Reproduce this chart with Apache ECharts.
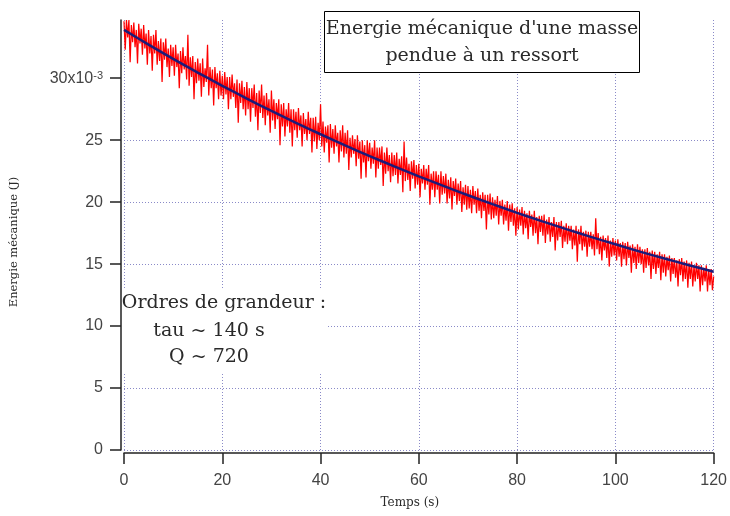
<!DOCTYPE html>
<html>
<head>
<meta charset="utf-8">
<script src="https://cdn.jsdelivr.net/npm/echarts@6/dist/echarts.min.js"></script>
<style>
  html, body { margin: 0; padding: 0; background: #fff; }
  #chart { width: 730px; height: 516px; }
</style>
</head>
<body>
<div id="chart"></div>
<script>
// Recorded mechanical energy (x10^-3 J), one sample every 0.25 s from 0 to 120 s
const sampleStep = 0.25;
const energy = [
  // 0 - 5 s
  34.6, 32.3, 34.7, 33.3, 34.7, 31.3, 34.3, 32.9, 34.5, 32.5, 33.9, 31.2, 34.4, 32.8, 34.0, 31.9, 34.3, 32.4, 33.6, 31.1,
  // 5 - 10 s
  33.9, 32.0, 33.4, 30.6, 33.5, 32.0, 33.9, 31.1, 33.0, 31.4, 33.2, 29.7, 32.9, 31.5, 33.2, 30.9, 32.4, 30.1, 32.7, 31.0,
  // 10 - 15 s
  32.5, 30.2, 32.7, 30.9, 32.0, 29.2, 32.2, 30.4, 32.5, 30.7, 31.8, 29.9, 33.5, 29.4, 31.7, 30.1, 31.8, 28.3, 31.3, 29.6,
  // 15 - 20 s
  31.6, 29.8, 31.2, 28.5, 31.6, 29.3, 30.8, 29.7, 32.7, 28.6, 30.9, 29.2, 30.7, 27.8, 30.9, 29.2, 30.4, 28.3, 30.6, 28.6,
  // 20 - 25 s
  30.2, 28.3, 30.5, 28.7, 30.1, 27.5, 30.1, 28.3, 30.3, 28.5, 29.6, 27.6, 29.9, 26.4, 29.6, 28.0, 29.8, 27.5, 29.3, 27.0,
  // 25 - 30 s
  29.7, 27.5, 29.2, 26.5, 29.2, 27.6, 29.5, 26.9, 28.8, 25.8, 29.0, 27.2, 29.5, 26.8, 28.6, 26.2, 28.8, 27.0, 28.3, 25.6,
  // 30 - 35 s
  29.0, 26.6, 28.3, 25.9, 28.0, 26.7, 28.3, 24.6, 27.9, 26.1, 28.0, 25.3, 27.5, 26.1, 28.0, 25.6, 27.5, 24.5, 27.5, 25.8,
  // 35 - 40 s
  27.3, 25.2, 27.6, 25.8, 27.0, 24.5, 27.2, 25.5, 26.7, 25.0, 27.3, 25.5, 26.8, 24.0, 26.8, 24.9, 26.9, 24.3, 26.4, 25.0,
  // 40 - 45 s
  27.9, 24.5, 26.5, 24.0, 26.1, 24.8, 26.2, 23.2, 26.3, 24.4, 25.9, 23.9, 26.2, 24.5, 25.6, 23.2, 25.8, 24.1, 26.2, 23.6,
  // 45 - 50 s
  25.6, 23.9, 25.8, 22.6, 25.2, 23.6, 25.4, 23.9, 25.1, 22.9, 25.4, 23.5, 24.9, 21.9, 25.0, 23.2, 24.6, 22.0, 25.0, 23.3,
  // 50 - 55 s
  24.8, 22.7, 24.4, 23.1, 25.0, 22.0, 24.4, 22.7, 24.4, 23.0, 24.5, 21.3, 24.0, 22.3, 24.4, 22.5, 23.8, 21.6, 24.0, 22.1,
  // 55 - 60 s
  23.8, 22.2, 24.0, 21.5, 23.5, 22.2, 23.7, 20.8, 24.9, 21.7, 23.6, 21.8, 23.1, 20.9, 23.3, 21.9, 23.4, 21.1, 23.0, 21.4,
  // 60 - 65 s
  23.1, 20.4, 22.7, 21.5, 23.0, 21.0, 22.7, 21.4, 23.0, 19.8, 22.3, 21.0, 22.5, 20.4, 22.5, 21.0, 22.2, 19.9, 22.5, 20.6,
  // 65 - 70 s
  22.1, 20.7, 22.3, 19.9, 21.8, 20.3, 22.0, 19.4, 21.7, 20.5, 21.9, 19.8, 21.5, 20.1, 21.7, 19.2, 21.2, 19.8, 21.4, 19.4,
  // 70 - 75 s
  21.3, 19.5, 21.0, 19.1, 21.3, 19.8, 20.9, 19.1, 21.1, 19.3, 20.6, 18.7, 20.8, 19.3, 20.6, 17.8, 20.6, 19.0, 20.7, 18.6,
  // 75 - 80 s
  20.4, 18.7, 20.2, 18.9, 20.5, 18.2, 20.1, 18.9, 20.2, 18.2, 19.8, 18.5, 20.1, 17.7, 19.8, 18.4, 19.9, 18.1, 19.5, 17.3,
  // 80 - 85 s
  19.6, 17.8, 19.4, 18.1, 19.6, 17.4, 19.3, 17.9, 19.1, 17.0, 19.3, 18.0, 19.0, 17.3, 19.3, 17.5, 18.8, 16.6, 18.9, 17.6,
  // 85 - 90 s
  18.9, 17.3, 19.0, 16.7, 18.6, 17.4, 18.8, 16.8, 18.4, 17.2, 18.8, 16.1, 18.4, 16.9, 18.4, 17.2, 18.5, 16.3, 18.1, 16.8,
  // 90 - 95 s
  18.3, 16.6, 18.1, 16.9, 18.1, 16.2, 17.8, 16.5, 18.1, 15.2, 17.8, 16.6, 18.1, 16.1, 17.6, 16.4, 17.7, 15.6, 17.6, 16.4,
  // 95 - 100 s
  17.6, 16.2, 17.4, 15.7, 18.7, 16.2, 17.5, 15.8, 17.2, 15.3, 17.3, 16.1, 17.1, 15.5, 17.3, 14.8, 16.9, 15.6, 17.1, 15.7,
  // 100 - 105 s
  16.9, 15.3, 17.0, 15.6, 16.7, 14.8, 16.8, 15.4, 16.7, 14.9, 16.8, 15.5, 16.5, 14.3, 16.6, 15.1, 16.4, 14.6, 16.6, 15.1,
  // 105 - 110 s
  16.4, 15.0, 16.2, 14.3, 16.2, 14.7, 16.3, 14.9, 16.0, 13.8, 16.1, 14.6, 16.0, 14.2, 15.8, 14.7, 16.0, 13.7, 15.8, 14.3,
  // 110 - 115 s
  15.8, 14.0, 15.6, 14.5, 15.7, 13.6, 15.5, 14.2, 15.5, 13.9, 15.3, 13.2, 15.4, 14.1, 15.5, 13.6, 15.2, 13.8, 15.3, 13.1,
  // 115 - 120 s
  15.1, 13.8, 15.2, 13.2, 14.9, 13.6, 15.1, 13.8, 14.9, 12.8, 14.9, 13.3, 14.7, 13.6, 14.9, 12.8, 14.6, 13.3, 14.6, 12.9,
  14.0
];

// Exponential fit of the energy (x10^-3 J), every 5 s
const fitStep = 5;
const fitEnergy = [
  33.9, 32.71, 31.56, 30.46, 29.39, 28.36, 27.36, 26.40, 25.48, 24.58,
  23.72, 22.89, 22.08, 21.31, 20.56, 19.84, 19.14, 18.47, 17.82, 17.20,
  16.60, 16.01, 15.45, 14.91, 14.39
];

const yTicks = [0, 5, 10, 15, 20, 25, 30];

const gridColor = '#8a8ac8';
const axisColor = '#222';
const labelColor = '#444';
const textColor = '#2a2a2a';
const serif = 'DejaVu Serif';
const sans = 'Liberation Sans, Arial, sans-serif';

const chart = echarts.init(document.getElementById('chart'), null, { renderer: 'canvas' });

chart.setOption({
  animation: false,
  backgroundColor: '#fff',
  grid: { left: 122, right: 14, top: 20, bottom: 66 },
  xAxis: {
    type: 'value',
    min: 0,
    max: 120,
    interval: 20,
    offset: 3,
    name: 'Temps (s)',
    nameLocation: 'middle',
    nameGap: 44,
    nameTextStyle: { fontFamily: serif, fontSize: 12, color: textColor, padding: [0, 18, 0, 0] },
    axisLine: { show: true, onZero: false, lineStyle: { color: axisColor, width: 1.5 } },
    axisTick: { show: true, length: 11, lineStyle: { color: axisColor, width: 1.5 } },
    axisLabel: { margin: 20, fontSize: 16, fontFamily: sans, color: labelColor },
    splitLine: { show: true, lineStyle: { color: gridColor, width: 1, type: [1, 2] } }
  },
  yAxis: {
    type: 'value',
    min: 0,
    max: 34.7,
    interval: 5,
    offset: 3,
    name: 'Energie mécanique (J)',
    nameLocation: 'middle',
    nameGap: 101,
    nameRotate: 90,
    nameTextStyle: { fontFamily: serif, fontSize: 11.5, color: textColor, padding: [0, 14, 0, 0] },
    axisLine: { show: true, onZero: false, lineStyle: { color: axisColor, width: 1.5 } },
    axisTick: { show: true, length: 11, customValues: yTicks, lineStyle: { color: axisColor, width: 1.5 } },
    axisLabel: {
      margin: 18,
      customValues: yTicks,
      fontSize: 16,
      fontFamily: sans,
      color: labelColor,
      formatter: function (v) {
        return v === 30 ? '{b|30x10}{s|-3}' : String(v);
      },
      rich: {
        b: { fontSize: 16, fontFamily: sans, color: labelColor },
        s: { fontSize: 11, fontFamily: sans, color: labelColor, verticalAlign: 'top' }
      }
    },
    splitLine: { show: true, showMaxLine: false, lineStyle: { color: gridColor, width: 1, type: [1, 2] } }
  },
  series: [
    {
      name: 'mesure',
      type: 'line',
      data: energy.map((v, i) => [i * sampleStep, v]),
      showSymbol: false,
      symbol: 'none',
      sampling: false,
      clip: true,
      lineStyle: { color: '#ff0000', width: 1.25 },
      z: 2,
      silent: true
    },
    {
      name: 'ajustement',
      type: 'line',
      data: fitEnergy.map((v, i) => [i * fitStep, v]),
      showSymbol: false,
      symbol: 'none',
      smooth: 0.3,
      lineStyle: { color: '#1b1b7a', width: 2.5 },
      z: 3,
      silent: true
    }
  ],
  graphic: [
    {
      type: 'rect',
      z: 100,
      shape: { x: 124, y: 288, width: 203, height: 84 },
      style: { fill: '#fff' }
    },
    {
      type: 'text', z: 101,
      style: { text: 'Ordres de grandeur :', x: 224, y: 303, align: 'center', verticalAlign: 'middle',
               font: '19px "DejaVu Serif"', fill: textColor }
    },
    {
      type: 'text', z: 101,
      style: { text: 'tau ~ 140 s', x: 209, y: 331, align: 'center', verticalAlign: 'middle',
               font: '19px "DejaVu Serif"', fill: textColor }
    },
    {
      type: 'text', z: 101,
      style: { text: 'Q ~ 720', x: 209, y: 357, align: 'center', verticalAlign: 'middle',
               font: '19px "DejaVu Serif"', fill: textColor }
    },
    {
      type: 'rect',
      z: 100,
      shape: { x: 324.5, y: 11.5, width: 315, height: 61 },
      style: { fill: '#fff', stroke: '#000', lineWidth: 1 }
    },
    {
      type: 'text', z: 101,
      style: { text: "Energie mécanique d'une masse", x: 482, y: 29, align: 'center', verticalAlign: 'middle',
               font: '19px "DejaVu Serif"', fill: textColor }
    },
    {
      type: 'text', z: 101,
      style: { text: 'pendue à un ressort', x: 482, y: 56, align: 'center', verticalAlign: 'middle',
               font: '19px "DejaVu Serif"', fill: textColor }
    }
  ]
});
</script>
</body>
</html>
